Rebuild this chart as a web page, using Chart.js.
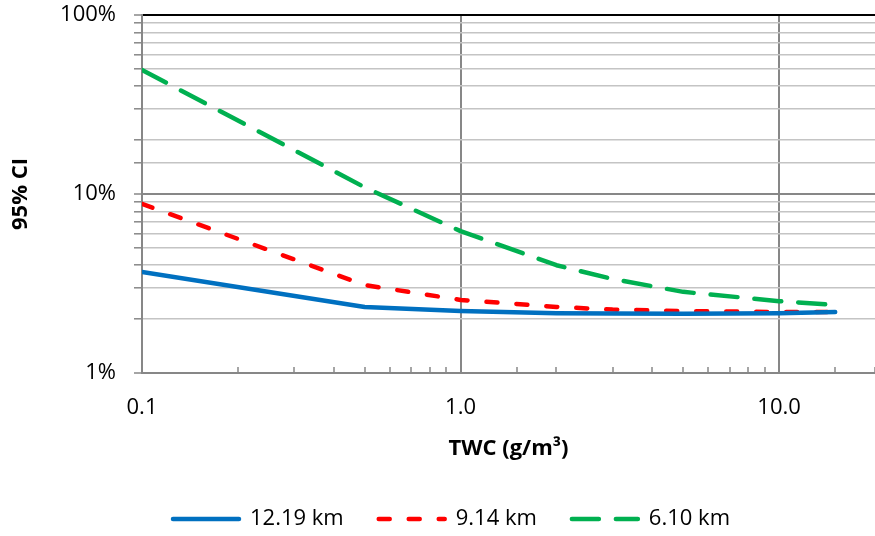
<!DOCTYPE html>
<html>
<head>
<meta charset="utf-8">
<script src="https://cdn.jsdelivr.net/npm/chart.js@4/dist/chart.umd.min.js"></script>
<style>
  html, body { margin: 0; padding: 0; background: #fff; }
  #wrap { width: 875px; height: 536px; }
</style>
</head>
<body>
<div id="wrap"><canvas id="chart"></canvas></div>
<script>
// TWC values (g/m3)
const twc = [0.1, 0.5, 1, 2, 3, 5, 10, 15];

// 95% CI in percent, one array per altitude
const ci1219 = [3.67, 2.34, 2.22, 2.16, 2.15, 2.14, 2.16, 2.19];
const ci914 = [8.8, 3.1, 2.56, 2.34, 2.26, 2.22, 2.19, 2.19];
const ci610 = [49.3, 10.9, 6.2, 4.0, 3.35, 2.84, 2.52, 2.40];

const seriesNames = ['12.19 km', '9.14 km', '6.10 km'];

const FONT = '"Open Sans", "Liberation Sans", sans-serif';
const AXIS_GREY = '#878787';

const isDecade = v => Math.abs(Math.log10(v) - Math.round(Math.log10(v))) < 1e-6;
const toPoints = ys => twc.map((x, i) => ({ x: x, y: ys[i] }));

// no extra room for overflowing tick labels, the plot runs to the right edge
const noPad = s => {
  s.paddingLeft = 0;
  s.paddingRight = 0;
  s.paddingTop = 0;
  s.paddingBottom = 0;
};

// move the legend a bit, Excel puts it slightly right and lower
const legendNudge = {
  id: 'legendNudge',
  afterLayout(chart) {
    const lg = chart.legend;
    if (!lg) return;
    lg.left += 28;
    lg.top += 4;
    lg.bottom += 4;
  }
};

new Chart(document.getElementById('chart'), {
  type: 'line',
  data: {
    datasets: [
      {
        label: seriesNames[0],
        data: toPoints(ci1219),
        borderColor: '#0070c0',
        backgroundColor: '#0070c0',
        borderWidth: 4.5
      },
      {
        label: seriesNames[1],
        data: toPoints(ci914),
        borderColor: '#ff0000',
        backgroundColor: '#ff0000',
        borderWidth: 4.5,
        borderDash: [11, 19]
      },
      {
        label: seriesNames[2],
        data: toPoints(ci610),
        borderColor: '#00b050',
        backgroundColor: '#00b050',
        borderWidth: 4.5,
        borderDash: [27, 17]
      }
    ]
  },
  options: {
    responsive: true,
    maintainAspectRatio: false,
    animation: false,
    layout: { padding: { top: 15, left: 0, right: 0, bottom: 0 } },
    elements: {
      point: { radius: 0, hoverRadius: 0 },
      line: { tension: 0, borderCapStyle: 'round', borderJoinStyle: 'round' }
    },
    plugins: {
      tooltip: { enabled: false },
      legend: {
        position: 'bottom',
        labels: {
          usePointStyle: true,
          pointStyle: 'line',
          pointStyleWidth: 66,
          padding: 35,
          color: '#000',
          font: { family: FONT, size: 22 },
          // point style legends lose the dash, put it back from the dataset
          generateLabels: chart => {
            const items = Chart.defaults.plugins.legend.labels.generateLabels(chart);
            items.forEach(it => {
              const ds = chart.data.datasets[it.datasetIndex];
              it.lineDash = ds.borderDash || [];
              it.lineCap = 'round';
              it.strokeStyle = ds.borderColor;
              it.lineWidth = ds.borderWidth;
            });
            return items;
          }
        }
      }
    },
    scales: {
      x: {
        type: 'logarithmic',
        min: 0.1,
        max: 20,
        afterFit: s => { s.height = 96; noPad(s); },
        border: { color: AXIS_GREY, width: 2 },
        grid: {
          color: c => (c.tick && isDecade(c.tick.value)) ? AXIS_GREY : 'rgba(0,0,0,0)',
          lineWidth: 2,
          tickColor: AXIS_GREY,
          tickLength: -6,
          tickWidth: 1.5
        },
        ticks: {
          autoSkip: false,
          maxRotation: 0,
          padding: 28,
          color: '#000',
          font: { family: FONT, size: 22 },
          callback: v => isDecade(v) ? Number(v).toFixed(1) : ''
        },
        title: {
          display: true,
          text: 'TWC (g/m³)',
          color: '#000',
          font: { family: FONT, size: 22, weight: 'bold' },
          padding: { top: 0, bottom: 7 }
        }
      },
      y: {
        type: 'logarithmic',
        min: 1,
        max: 100,
        afterFit: s => { s.width = 142; noPad(s); },
        border: { color: AXIS_GREY, width: 2 },
        grid: {
          color: c => {
            const v = c.tick ? c.tick.value : 0;
            if (Math.abs(v - 100) < 1e-6) return '#000';
            return isDecade(v) ? AXIS_GREY : '#c4c4c4';
          },
          lineWidth: c => (c.tick && isDecade(c.tick.value)) ? 2 : 1.6,
          tickColor: AXIS_GREY,
          tickLength: 8,
          tickWidth: 1.5
        },
        ticks: {
          autoSkip: false,
          padding: 18,
          color: '#000',
          font: { family: FONT, size: 22 },
          callback: v => isDecade(v) ? Math.round(v) + '%' : ''
        },
        title: {
          display: true,
          text: '95% CI',
          color: '#000',
          font: { family: FONT, size: 22, weight: 'bold' },
          padding: { top: 8, bottom: 0 }
        }
      }
    }
  },
  plugins: [legendNudge]
});
</script>
</body>
</html>
